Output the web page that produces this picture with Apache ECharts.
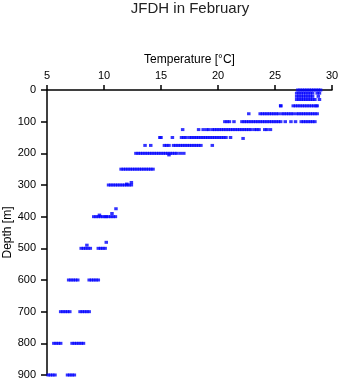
<!DOCTYPE html>
<html>
<head>
<meta charset="utf-8">
<script src="https://cdn.jsdelivr.net/npm/echarts@6/dist/echarts.min.js"></script>
<style>html,body{margin:0;padding:0;background:#fff}#c{width:341px;height:384px}</style>
</head>
<body>
<div id="c"></div>
<script>
// Temperature readings (°C) at each standard depth (m)
const t0   = [27.0,27.2,27.4,27.6,27.8,28.0,28.2,28.4,28.6,28.8,29.0];
const t10  = [26.9,27.1,27.3,27.5,27.7,27.9,28.1,28.3,28.7,28.9];
const t20  = [26.9,27.1,27.3,27.5,27.7,27.9,28.1,28.3,28.8];
const t30  = [26.9,27.1,27.3,27.5,27.7,27.9,28.1,28.3,28.5,28.9];
const t50  = [25.5,26.6,26.8,27.0,27.2,27.4,27.6,27.8,28.0,28.2,28.4,28.6,28.7];
const t75  = [22.7,23.7,23.9,24.1,24.3,24.5,24.7,24.9,25.1,25.3,25.6,25.8,26.0,26.2,26.4,26.6,26.9,27.1,27.3,27.5,27.7,27.9,28.1,28.3,28.5,28.7];
const t100 = [20.6,20.8,21.0,21.4,22.1,22.3,22.5,22.7,22.9,23.1,23.3,23.5,23.7,23.9,24.1,24.3,24.5,24.7,24.9,25.1,25.3,25.5,25.9,26.4,26.8,27.3,27.5,27.7,27.9,28.1,28.3,28.5];
const t125 = [16.9,18.3,18.7,19.0,19.2,19.5,19.7,19.9,20.1,20.3,20.5,20.7,20.9,21.1,21.3,21.5,21.7,21.9,22.1,22.3,22.5,22.7,22.9,23.2,23.4,23.6,24.1,24.3,24.6];
const t150 = [14.9,15.0,16.0,16.8,17.0,17.2,17.5,17.7,17.9,18.1,18.3,18.5,18.7,18.9,19.1,19.3,19.5,19.7,19.9,20.1,20.3,20.5,20.7,21.1];
const t175 = [13.6,14.1,15.3,15.5,15.7,16.1,16.3,16.5,16.7,16.9,17.1,17.3,17.5,17.7,17.9,18.1,18.3,18.5,19.5];
const t200 = [12.8,13.0,13.2,13.4,13.6,13.8,14.0,14.2,14.4,14.6,14.8,15.0,15.2,15.4,15.6,15.8,16.0,16.2,16.4,16.7,17.0];
const t250 = [11.5,11.7,11.9,12.1,12.3,12.5,12.7,12.9,13.1,13.3,13.5,13.7,13.9,14.1,14.3];
const t300 = [10.4,10.6,10.8,11.0,11.2,11.4,11.6,11.8,12.0,12.2,12.4];
const t400 = [9.1,9.3,9.5,9.7,9.9,10.1,10.2,10.4,10.6,10.8,11.0];
const t500 = [8.0,8.2,8.4,8.6,8.8,9.5,9.7,9.9,10.1];
const t600 = [6.9,7.1,7.3,7.5,7.7,8.7,8.9,9.1,9.3,9.5];
const t700 = [6.2,6.4,6.6,6.8,7.0,7.9,8.1,8.3,8.5,8.7];
const t800 = [5.6,5.8,6.0,6.2,7.2,7.4,7.6,7.8,8.0,8.2];
const t900 = [5.1,5.3,5.5,5.7,6.8,7.0,7.2,7.4];
// Isolated readings at non-standard depths: [temperature, depth]
const extraPoints = [[22.2,153],[15.7,205],[12.4,292],[12.0,297],[11.05,375],[10.7,390],[9.6,395],[10.2,481],[8.5,490],[25.5,50]];

const levels = [
  [0,t0],[10,t10],[20,t20],[30,t30],[50,t50],[75,t75],[100,t100],[125,t125],[150,t150],
  [175,t175],[200,t200],[250,t250],[300,t300],[400,t400],[500,t500],[600,t600],
  [700,t700],[800,t800],[900,t900]
];
const xTicks = [5,10,15,20,25,30];
const yTicks = [0,100,200,300,400,500,600,700,800,900];

const data = [];
levels.forEach(([d, ts]) => ts.forEach(t => data.push([t, d])));
extraPoints.forEach(p => data.push(p));

const font = 'Liberation Sans, Arial, Helvetica, sans-serif';
const chart = echarts.init(document.getElementById('c'), null, {renderer: 'canvas'});
chart.setOption({
  animation: false,
  backgroundColor: '#fff',
  title: {
    text: 'JFDH in February',
    left: 190, textAlign: 'center', top: 1, padding: 0,
    textStyle: {fontFamily: font, fontSize: 15, fontWeight: 'normal', color: '#222'}
  },
  grid: {left: 47, right: 9, top: 90, bottom: 9, containLabel: false, outerBoundsMode: 'none'},
  xAxis: {
    type: 'value', position: 'top', min: xTicks[0], max: xTicks[xTicks.length-1], interval: 5,
    name: 'Temperature [°C]', nameLocation: 'middle', nameGap: 24, nameMoveOverlap: false,
    nameTextStyle: {fontFamily: font, fontSize: 12, color: '#000'},
    axisLine: {show: true, onZero: false, lineStyle: {color: '#000', width: 1.5}},
    axisTick: {show: true, inside: false, length: 5, lineStyle: {color: '#000', width: 1.5}},
    axisLabel: {fontFamily: font, fontSize: 11, color: '#000', margin: 9},
    splitLine: {show: false}
  },
  yAxis: {
    type: 'value', inverse: true, min: yTicks[0], max: yTicks[yTicks.length-1], interval: 100,
    name: 'Depth [m]', nameLocation: 'middle', nameGap: 33, nameRotate: 90, nameMoveOverlap: false,
    nameTextStyle: {fontFamily: font, fontSize: 12, color: '#000'},
    axisLine: {show: true, onZero: false, lineStyle: {color: '#000', width: 1.5}},
    axisTick: {show: true, inside: false, length: 6, lineStyle: {color: '#000', width: 1.5}},
    axisLabel: {fontFamily: font, fontSize: 11, color: '#000', margin: 11},
    splitLine: {show: false}
  },
  series: [{
    type: 'scatter', data: data, symbol: 'rect', symbolSize: [3.5, 3], clip: false,
    itemStyle: {color: '#0000ff'}
  }]
});
</script>
</body>
</html>
